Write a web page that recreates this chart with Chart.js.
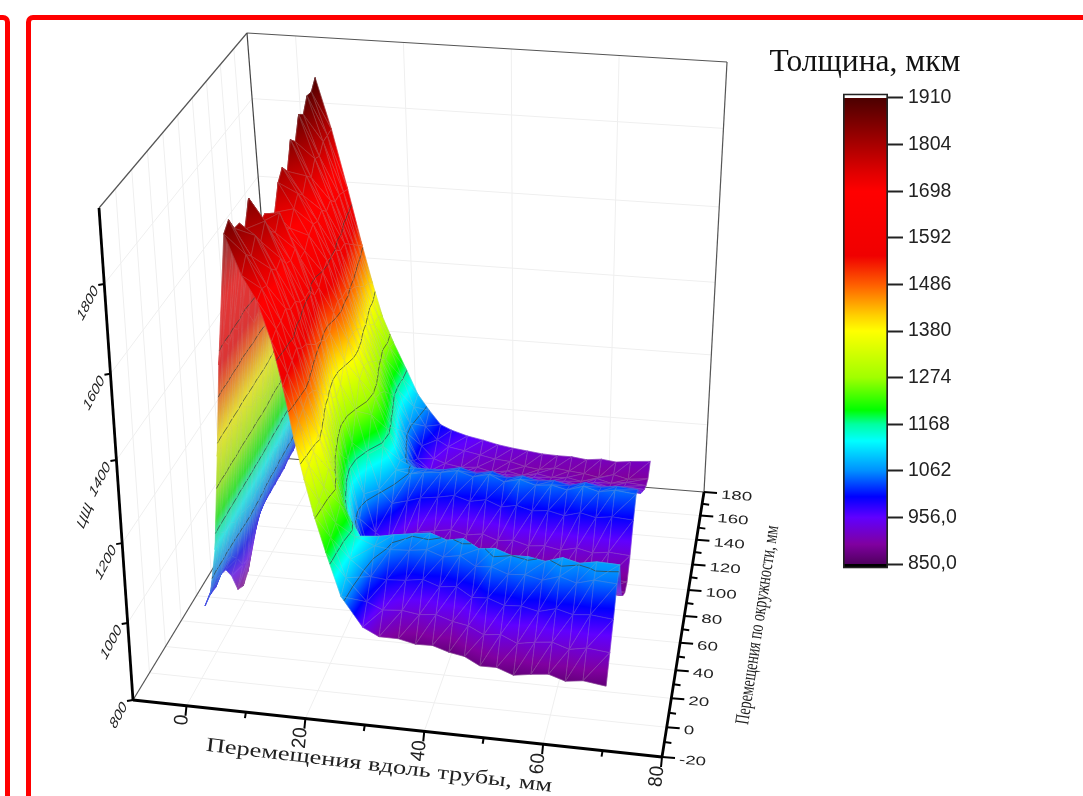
<!DOCTYPE html>
<html>
<head>
<meta charset="utf-8">
<script src="https://cdn.jsdelivr.net/npm/chart.js@4"></script>
<style>
  html, body { margin: 0; padding: 0; background: #fff; overflow: hidden; width: 1083px; height: 796px; }
  canvas { position: absolute; }
  #surface { left: 0; top: 0; filter: blur(0.4px); }
  #legend { left: 745px; top: 0; }
  #legendTitle { position: absolute; left: 745px; width: 240px; top: 43px; text-align: center;
    font: 31.5px "Liberation Serif"; color: #111; }
  .frame { position: absolute; border: 5px solid #f00; border-radius: 7px; top: 15px; height: 900px; }
  #frameA { left: -40px; width: 40px; }
  #frameB { left: 26px; width: 1200px; }
</style>
</head>
<body>
<canvas id="surface" width="1083" height="796"></canvas>
<canvas id="legend" width="240" height="796"></canvas>
<div id="legendTitle">Толщина, мкм</div>
<div class="frame" id="frameA"></div>
<div class="frame" id="frameB"></div>
<script>
// значения
const xGrid = [1.5, 2.3, 3, 3.6, 4.2, 5.5, 8, 10.5, 13, 15, 17, 19, 21, 23, 25, 27, 29, 32, 35, 38, 41, 44, 47, 50, 53, 56, 59, 62, 65, 69];
const yFront = [-2, 0, 3, 7, 10, 14, 14, 12, 8, 4, 0, -5, -10, -12, -8, 8, 16, 20, 20, 19, 18, 14, 10, 8, 7, 7, 7, 6, 6, 6];
const yBack = [140, 143, 146, 150, 155, 160, 160, 160, 158, 155, 152, 152, 155, 156, 158, 160, 162, 164, 166, 166, 167, 167, 167, 168, 168, 168, 168, 168, 168, 168];
const thickness = [
  [1000,1030,1130,1350,1560,1850,1760,1710,1630,1540,1430,1350,1280,1200,1080,950,900,885,875,880,870,878,872,880,868,875,880,870,876,868],
  [1005,1040,1150,1380,1600,1865,1790,1720,1640,1550,1450,1360,1290,1210,1100,990,945,935,928,936,925,932,926,938,922,930,935,924,932,926],
  [1000,1030,1130,1350,1570,1830,1770,1710,1640,1560,1460,1370,1300,1220,1120,1030,1000,990,996,984,992,980,995,986,992,982,994,986,990,984],
  [1010,1040,1130,1370,1590,1825,1800,1730,1650,1570,1470,1390,1320,1240,1150,1085,1055,1045,1050,1038,1048,1035,1050,1040,1046,1036,1050,1040,1052,1048],
  [1000,1030,1110,1340,1570,1795,1770,1710,1630,1550,1460,1370,1290,1200,1125,1085,1070,1065,1070,1058,1068,1056,1072,1062,1066,1058,1072,1064,1072,1070],
  [960,1000,1110,1370,1610,1850,1800,1720,1630,1540,1440,1340,1240,1130,1050,1015,1005,1000,1005,992,1002,994,1006,996,1000,992,1004,996,1002,1000],
  [900,960,1100,1350,1570,1800,1760,1690,1610,1520,1410,1300,1180,1060,980,945,937,935,938,930,936,928,940,932,936,928,938,930,936,934],
  [885,950,1090,1330,1530,1760,1740,1680,1600,1500,1390,1260,1130,1000,930,910,906,905,908,900,906,898,910,902,906,900,908,902,906,904],
  [900,970,1100,1340,1540,1765,1770,1690,1600,1490,1360,1220,1070,950,900,888,885,885,888,880,886,880,890,882,886,880,888,882,886,884],
  [950,1000,1100,1310,1500,1720,1710,1650,1570,1470,1340,1190,1040,930,895,888,886,885,888,880,886,880,890,882,886,880,888,882,886,884],
  [985,1020,1100,1310,1510,1735,1700,1650,1570,1470,1350,1210,1080,980,945,935,932,930,934,925,932,924,936,926,932,924,934,926,932,928],
  [995,1025,1120,1340,1550,1790,1730,1670,1590,1500,1390,1270,1160,1070,1025,1008,1003,1000,1005,994,1002,992,1006,996,1002,992,1004,996,1002,998],
  [1000,1030,1130,1370,1580,1810,1750,1680,1600,1510,1420,1330,1240,1160,1090,1058,1050,1045,1050,1038,1048,1036,1052,1040,1046,1036,1050,1040,1048,1042],
  [1000,1030,1120,1350,1560,1785,1730,1670,1590,1500,1420,1340,1260,1180,1090,1050,1036,1030,1035,1024,1032,1022,1036,1026,1032,1022,1034,1026,1032,1028],
  [1000,1040,1150,1400,1620,1845,1760,1680,1590,1500,1410,1330,1250,1160,1070,1015,1000,995,1000,990,998,988,1002,992,996,988,1000,990,998,994],
  [1000,1040,1140,1380,1600,1825,1740,1660,1570,1480,1390,1310,1230,1130,1040,985,970,965,970,958,968,956,972,960,966,958,970,960,968,964],
  [1000,1040,1160,1430,1650,1875,1770,1670,1570,1470,1380,1290,1200,1100,1010,960,950,945,950,938,948,936,950,940,946,938,950,940,946,942],
  [1005,1045,1150,1410,1630,1860,1760,1650,1550,1450,1360,1270,1170,1070,990,945,932,925,928,918,926,916,930,920,924,916,928,918,924,920],
  [1005,1050,1170,1450,1680,1890,1780,1650,1530,1430,1340,1250,1160,1070,1000,955,935,920,918,908,912,904,914,904,908,900,912,902,908,904],
  [1010,1050,1170,1440,1670,1885,1780,1640,1510,1420,1340,1260,1170,1090,1030,985,960,945,930,922,915,905,900,905,900,896,888,900,890,896],
  [1010,1050,1160,1420,1650,1905,1780,1630,1490,1400,1320,1250,1170,1100,1050,1005,985,965,950,940,930,925,920,915,915,910,915,910,915,920]
];
const xTicks = [0, 20, 40, 60, 80];
const xMinorTicks = [10, 30, 50, 70];
const yTicks = [-20, 0, 20, 40, 60, 80, 100, 120, 140, 160, 180];
const yMinorTicks = [-10, 10, 30, 50, 70, 90, 110, 130, 150, 170];
const zTicks = [800, 1000, 1200, 1400, 1600, 1800];
const legendTicks = [850, 956, 1062, 1168, 1274, 1380, 1486, 1592, 1698, 1804, 1910];
const contourLevels = [1062, 1168, 1274, 1380, 1486, 1592];
const colorValues = [850, 895, 956, 1003, 1062, 1130, 1168, 1200, 1274, 1380, 1415, 1484, 1551, 1698, 1740, 1804, 1905, 1910];
const colorNames = ['#500060', '#8000a0', '#6000ff', '#0000ff', '#0090ff', '#00ffff', '#00ffa0', '#00ff00', '#a0ff00', '#ffff00', '#ffd000', '#ff6000', '#f00000', '#ff0000', '#e00000', '#a80000', '#500000', '#500000'];

// рамка осей на экране
const xMin = -9, xMax = 80, yMin = -20, yMax = 180, zMin = 800, zMax = 1963;
const boxFloor = [[133, 700], [662, 757], [704, 492], [280, 458]];
const boxTop = [[99, 208], [702, 256], [727, 62], [247, 33]];
const kY = 0.88, kZ = 1.12;

function warp(t, k) { return t / (t + k * (1 - t)); }
function bilinear(q, u, v, n) {
  return (q[0][n] * (1 - u) + q[1][n] * u) * (1 - v) + (q[3][n] * (1 - u) + q[2][n] * u) * v;
}
function project(x, y, z) {
  const u = (x - xMin) / (xMax - xMin);
  const v = warp((y - yMin) / (yMax - yMin), kY);
  const w = warp((z - zMin) / (zMax - zMin), kZ);
  return {
    x: bilinear(boxFloor, u, v, 0) * (1 - w) + bilinear(boxTop, u, v, 0) * w,
    y: bilinear(boxFloor, u, v, 1) * (1 - w) + bilinear(boxTop, u, v, 1) * w
  };
}

function hexToRgb(h) {
  return [parseInt(h.slice(1, 3), 16), parseInt(h.slice(3, 5), 16), parseInt(h.slice(5, 7), 16)];
}
function colorAt(z) {
  if (z <= colorValues[0]) return colorNames[0];
  for (let i = 1; i < colorValues.length; i++) {
    if (z <= colorValues[i]) {
      const t = (z - colorValues[i - 1]) / (colorValues[i] - colorValues[i - 1]);
      const a = hexToRgb(colorNames[i - 1]), b = hexToRgb(colorNames[i]);
      return 'rgb(' + a.map((c, n) => Math.round(c + (b[n] - c) * t)).join(',') + ')';
    }
  }
  return colorNames[colorNames.length - 1];
}

function triangleGradient(ctx, pts, zs) {
  const ax = pts[1].x - pts[0].x, ay = pts[1].y - pts[0].y;
  const bx = pts[2].x - pts[0].x, by = pts[2].y - pts[0].y;
  const det = ax * by - ay * bx;
  const lo = Math.min(...zs), hi = Math.max(...zs);
  if (Math.abs(det) < 0.01 || hi - lo < 0.5) return colorAt((zs[0] + zs[1] + zs[2]) / 3);
  const dza = zs[1] - zs[0], dzb = zs[2] - zs[0];
  const gx = (dza * by - dzb * ay) / det, gy = (dzb * ax - dza * bx) / det;
  const len2 = gx * gx + gy * gy;
  const p = pts[zs.indexOf(lo)];
  const g = ctx.createLinearGradient(p.x, p.y, p.x + gx * (hi - lo) / len2, p.y + gy * (hi - lo) / len2);
  g.addColorStop(0, colorAt(lo));
  colorValues.forEach(v => { if (v > lo && v < hi) g.addColorStop((v - lo) / (hi - lo), colorAt(v)); });
  g.addColorStop(1, colorAt(hi));
  return g;
}

function contourSegment(pts, zs, level) {
  const out = [];
  for (let n = 0; n < 3; n++) {
    const m = (n + 1) % 3;
    if ((zs[n] < level) !== (zs[m] < level)) {
      const t = (level - zs[n]) / (zs[m] - zs[n]);
      out.push({ x: pts[n].x + (pts[m].x - pts[n].x) * t, y: pts[n].y + (pts[m].y - pts[n].y) * t });
    }
  }
  return out.length === 2 ? out : null;
}

function drawTriangle(ctx, pts, zs) {
  const cross = (pts[1].x - pts[0].x) * (pts[2].y - pts[0].y) - (pts[1].y - pts[0].y) * (pts[2].x - pts[0].x);
  ctx.beginPath();
  ctx.moveTo(pts[0].x, pts[0].y);
  ctx.lineTo(pts[1].x, pts[1].y);
  ctx.lineTo(pts[2].x, pts[2].y);
  ctx.closePath();
  const fill = triangleGradient(ctx, pts, zs);
  ctx.fillStyle = fill;
  ctx.fill();
  ctx.strokeStyle = fill;
  ctx.lineWidth = 0.6;
  ctx.stroke();
  // обратная сторона поверхности бледнее
  if (cross > 0) {
    ctx.fillStyle = 'rgba(175,165,165,0.32)';
    ctx.fill();
  }
  ctx.strokeStyle = 'rgba(175,170,175,0.38)';
  ctx.lineWidth = 0.6;
  ctx.stroke();
  contourLevels.forEach(level => {
    const s = contourSegment(pts, zs, level);
    if (!s) return;
    ctx.beginPath();
    ctx.moveTo(s[0].x, s[0].y);
    ctx.lineTo(s[1].x, s[1].y);
    ctx.strokeStyle = 'rgba(55,65,60,0.7)';
    ctx.lineWidth = 1;
    ctx.stroke();
  });
}

const surfacePlugin = {
  id: 'surfacePlugin',
  afterDatasetsDraw(chart) {
    const idx = chart.data.datasets.findIndex(d => d.label === 'Толщина');
    const els = chart.getDatasetMeta(idx).data;
    const ctx = chart.ctx;
    const nx = xGrid.length;
    const at = (j, i) => els[j * nx + i];
    ctx.save();
    ctx.lineJoin = 'round';
    for (let j = thickness.length - 2; j >= 0; j--) {
      for (let i = 0; i < nx - 1; i++) {
        const a = at(j, i), b = at(j, i + 1), c = at(j + 1, i), d = at(j + 1, i + 1);
        const za = thickness[j][i], zb = thickness[j][i + 1], zc = thickness[j + 1][i], zd = thickness[j + 1][i + 1];
        drawTriangle(ctx, [a, d, c], [za, zd, zc]);
        drawTriangle(ctx, [a, b, d], [za, zb, zd]);
      }
    }
    ctx.restore();
  }
};

function placeText(ctx, str, x, y, rot, sx, sy, skew, font, align) {
  ctx.save();
  ctx.translate(x, y);
  ctx.rotate(rot);
  ctx.transform(sx, 0, skew, sy, 0, 0);
  ctx.font = font;
  ctx.textAlign = align;
  ctx.textBaseline = 'middle';
  ctx.fillStyle = '#222';
  ctx.fillText(str, 0, 0);
  ctx.restore();
}

const labelPlugin = {
  id: 'labelPlugin',
  afterDraw(chart) {
    const ctx = chart.ctx, sx = chart.scales.x, sy = chart.scales.y;
    const px = p => ({ x: sx.getPixelForValue(p.x), y: sy.getPixelForValue(p.y) });
    xTicks.forEach(v => {
      const p = px(project(v, yMin, zMin));
      placeText(ctx, String(v), p.x - 4, p.y + 9, -Math.PI / 2 + 0.1, 1.05, 1.1, 0, '18px "Liberation Sans"', 'right');
    });
    yTicks.forEach(v => {
      const p = px(project(xMax, v, zMin));
      placeText(ctx, String(v), p.x + 17, p.y + 3, 0.08, 1.25, 0.82, 0, '15px "Liberation Sans"', 'left');
    });
    zTicks.forEach(v => {
      const p = px(project(xMin, yMin, v));
      placeText(ctx, String(v), p.x - 8, p.y + 4, -1.08, 1.05, 0.85, -0.2, 'italic 15px "Liberation Sans"', 'right');
    });
    placeText(ctx, 'Перемещения вдоль трубы, мм', 379, 766, 0.118, 1.32, 1, 0, '20px "Liberation Serif"', 'center');
    placeText(ctx, 'Перемещения по окружности, мм', 758, 625, -1.42, 0.7, 1, 0, '20px "Liberation Serif"', 'center');
    placeText(ctx, 'ЦЩ', 85, 516, -1.2, 1, 0.85, -0.2, 'italic 15px "Liberation Sans"', 'center');
  }
};

function segment(a, b, color, width) {
  return { type: 'scatter', showLine: true, pointRadius: 0, borderColor: color, borderWidth: width, data: [a, b] };
}
function shifted(p, dx, dy) { return { x: p.x + dx, y: p.y + dy }; }

const datasets = [];
// передние оси
datasets.push(segment(project(xMin, yMin, zMin), project(xMax, yMin, zMin), '#000', 2.8));
datasets.push(segment(project(xMax, yMin, zMin), project(xMax, yMax, zMin), '#000', 2.8));
datasets.push(segment(project(xMin, yMin, zMin), project(xMin, yMin, zMax), '#000', 2.8));
xTicks.forEach(v => { const p = project(v, yMin, zMin); datasets.push(segment(p, shifted(p, -1, 10), '#000', 2)); });
xMinorTicks.forEach(v => { const p = project(v, yMin, zMin); datasets.push(segment(p, shifted(p, -1, 6), '#000', 2)); });
yTicks.forEach(v => { const p = project(xMax, v, zMin); datasets.push(segment(p, shifted(p, 13, 1), '#000', 2)); });
yMinorTicks.forEach(v => { const p = project(xMax, v, zMin); datasets.push(segment(p, shifted(p, 7, 1), '#000', 2)); });
zTicks.forEach(v => { const p = project(xMin, yMin, v); datasets.push(segment(p, shifted(p, -6, 1), '#000', 2)); });
// задние рёбра
datasets.push(segment(project(xMin, yMin, zMin), project(xMin, yMax, zMin), '#555', 1.2));
datasets.push(segment(project(xMin, yMax, zMin), project(xMax, yMax, zMin), '#555', 1.2));
datasets.push(segment(project(xMin, yMax, zMin), project(xMin, yMax, zMax), '#444', 1.2));
datasets.push(segment(project(xMax, yMax, zMin), project(xMax, yMax, zMax), '#555', 1.2));
datasets.push(segment(project(xMin, yMin, zMax), project(xMin, yMax, zMax), '#555', 1.2));
datasets.push(segment(project(xMin, yMax, zMax), project(xMax, yMax, zMax), '#555', 1.2));
// сетка
const gridColor = '#efefef';
xTicks.slice(0, 4).forEach(v => {
  datasets.push(segment(project(v, yMin, zMin), project(v, yMax, zMin), gridColor, 1));
  datasets.push(segment(project(v, yMax, zMin), project(v, yMax, zMax), gridColor, 1));
});
yTicks.slice(1, 10).forEach(v => {
  datasets.push(segment(project(xMin, v, zMin), project(xMax, v, zMin), gridColor, 1));
  datasets.push(segment(project(xMin, v, zMin), project(xMin, v, zMax), gridColor, 1));
});
zTicks.slice(1).forEach(v => {
  datasets.push(segment(project(xMin, yMin, v), project(xMin, yMax, v), gridColor, 1));
  datasets.push(segment(project(xMin, yMax, v), project(xMax, yMax, v), gridColor, 1));
});
// узлы поверхности
const surfacePoints = [];
thickness.forEach((row, j) => {
  row.forEach((z, i) => {
    const y = yFront[i] + (yBack[i] - yFront[i]) * j / (thickness.length - 1);
    surfacePoints.push(project(xGrid[i], y, z));
  });
});
datasets.push({ type: 'scatter', label: 'Толщина', pointRadius: 0, showLine: false, data: surfacePoints });

new Chart(document.getElementById('surface'), {
  type: 'scatter',
  data: { datasets: datasets },
  options: {
    responsive: false,
    animation: false,
    layout: { padding: 0 },
    scales: {
      x: { type: 'linear', min: 0, max: 1083, display: false },
      y: { type: 'linear', min: 0, max: 796, reverse: true, display: false }
    },
    plugins: { legend: { display: false }, tooltip: { enabled: false } },
    elements: { line: { tension: 0 } }
  },
  plugins: [surfacePlugin, labelPlugin]
});

// цветовая шкала
const legendMin = 840, legendMax = 1920;
function legendFill(ctx) {
  const chart = ctx.chart, area = chart.chartArea;
  if (!area) return '#000';
  const g = chart.ctx.createLinearGradient(0, area.bottom, 0, area.top);
  const pos = v => (v - legendMin) / (legendMax - legendMin);
  g.addColorStop(0, '#000');
  g.addColorStop(pos(849), '#000');
  colorValues.forEach((v, i) => g.addColorStop(pos(v), colorNames[i]));
  g.addColorStop(pos(1911), '#fff');
  g.addColorStop(1, '#fff');
  return g;
}

new Chart(document.getElementById('legend'), {
  type: 'bar',
  data: {
    labels: [''],
    datasets: [{
      data: [[legendMin, legendMax]],
      backgroundColor: legendFill,
      borderColor: '#222',
      borderWidth: 2,
      borderSkipped: false,
      barPercentage: 1,
      categoryPercentage: 1
    }]
  },
  options: {
    responsive: false,
    animation: false,
    layout: { padding: { left: 98, top: 93.6, bottom: 227.6, right: 0 } },
    scales: {
      x: { display: false },
      y: {
        position: 'right',
        min: legendMin,
        max: legendMax,
        afterBuildTicks: scale => { scale.ticks = legendTicks.map(v => ({ value: v })); },
        afterFit: scale => { scale.width = 97; },
        border: { display: false },
        grid: { drawOnChartArea: false, tickLength: 15, tickColor: '#222', tickWidth: 2 },
        ticks: {
          autoSkip: false,
          padding: 5,
          color: '#222',
          font: { family: 'Liberation Sans', size: 19.5 },
          callback: v => (v < 1000 ? v.toFixed(1).replace('.', ',') : String(v))
        }
      }
    },
    plugins: { legend: { display: false }, tooltip: { enabled: false } }
  }
});
</script>
</body>
</html>
